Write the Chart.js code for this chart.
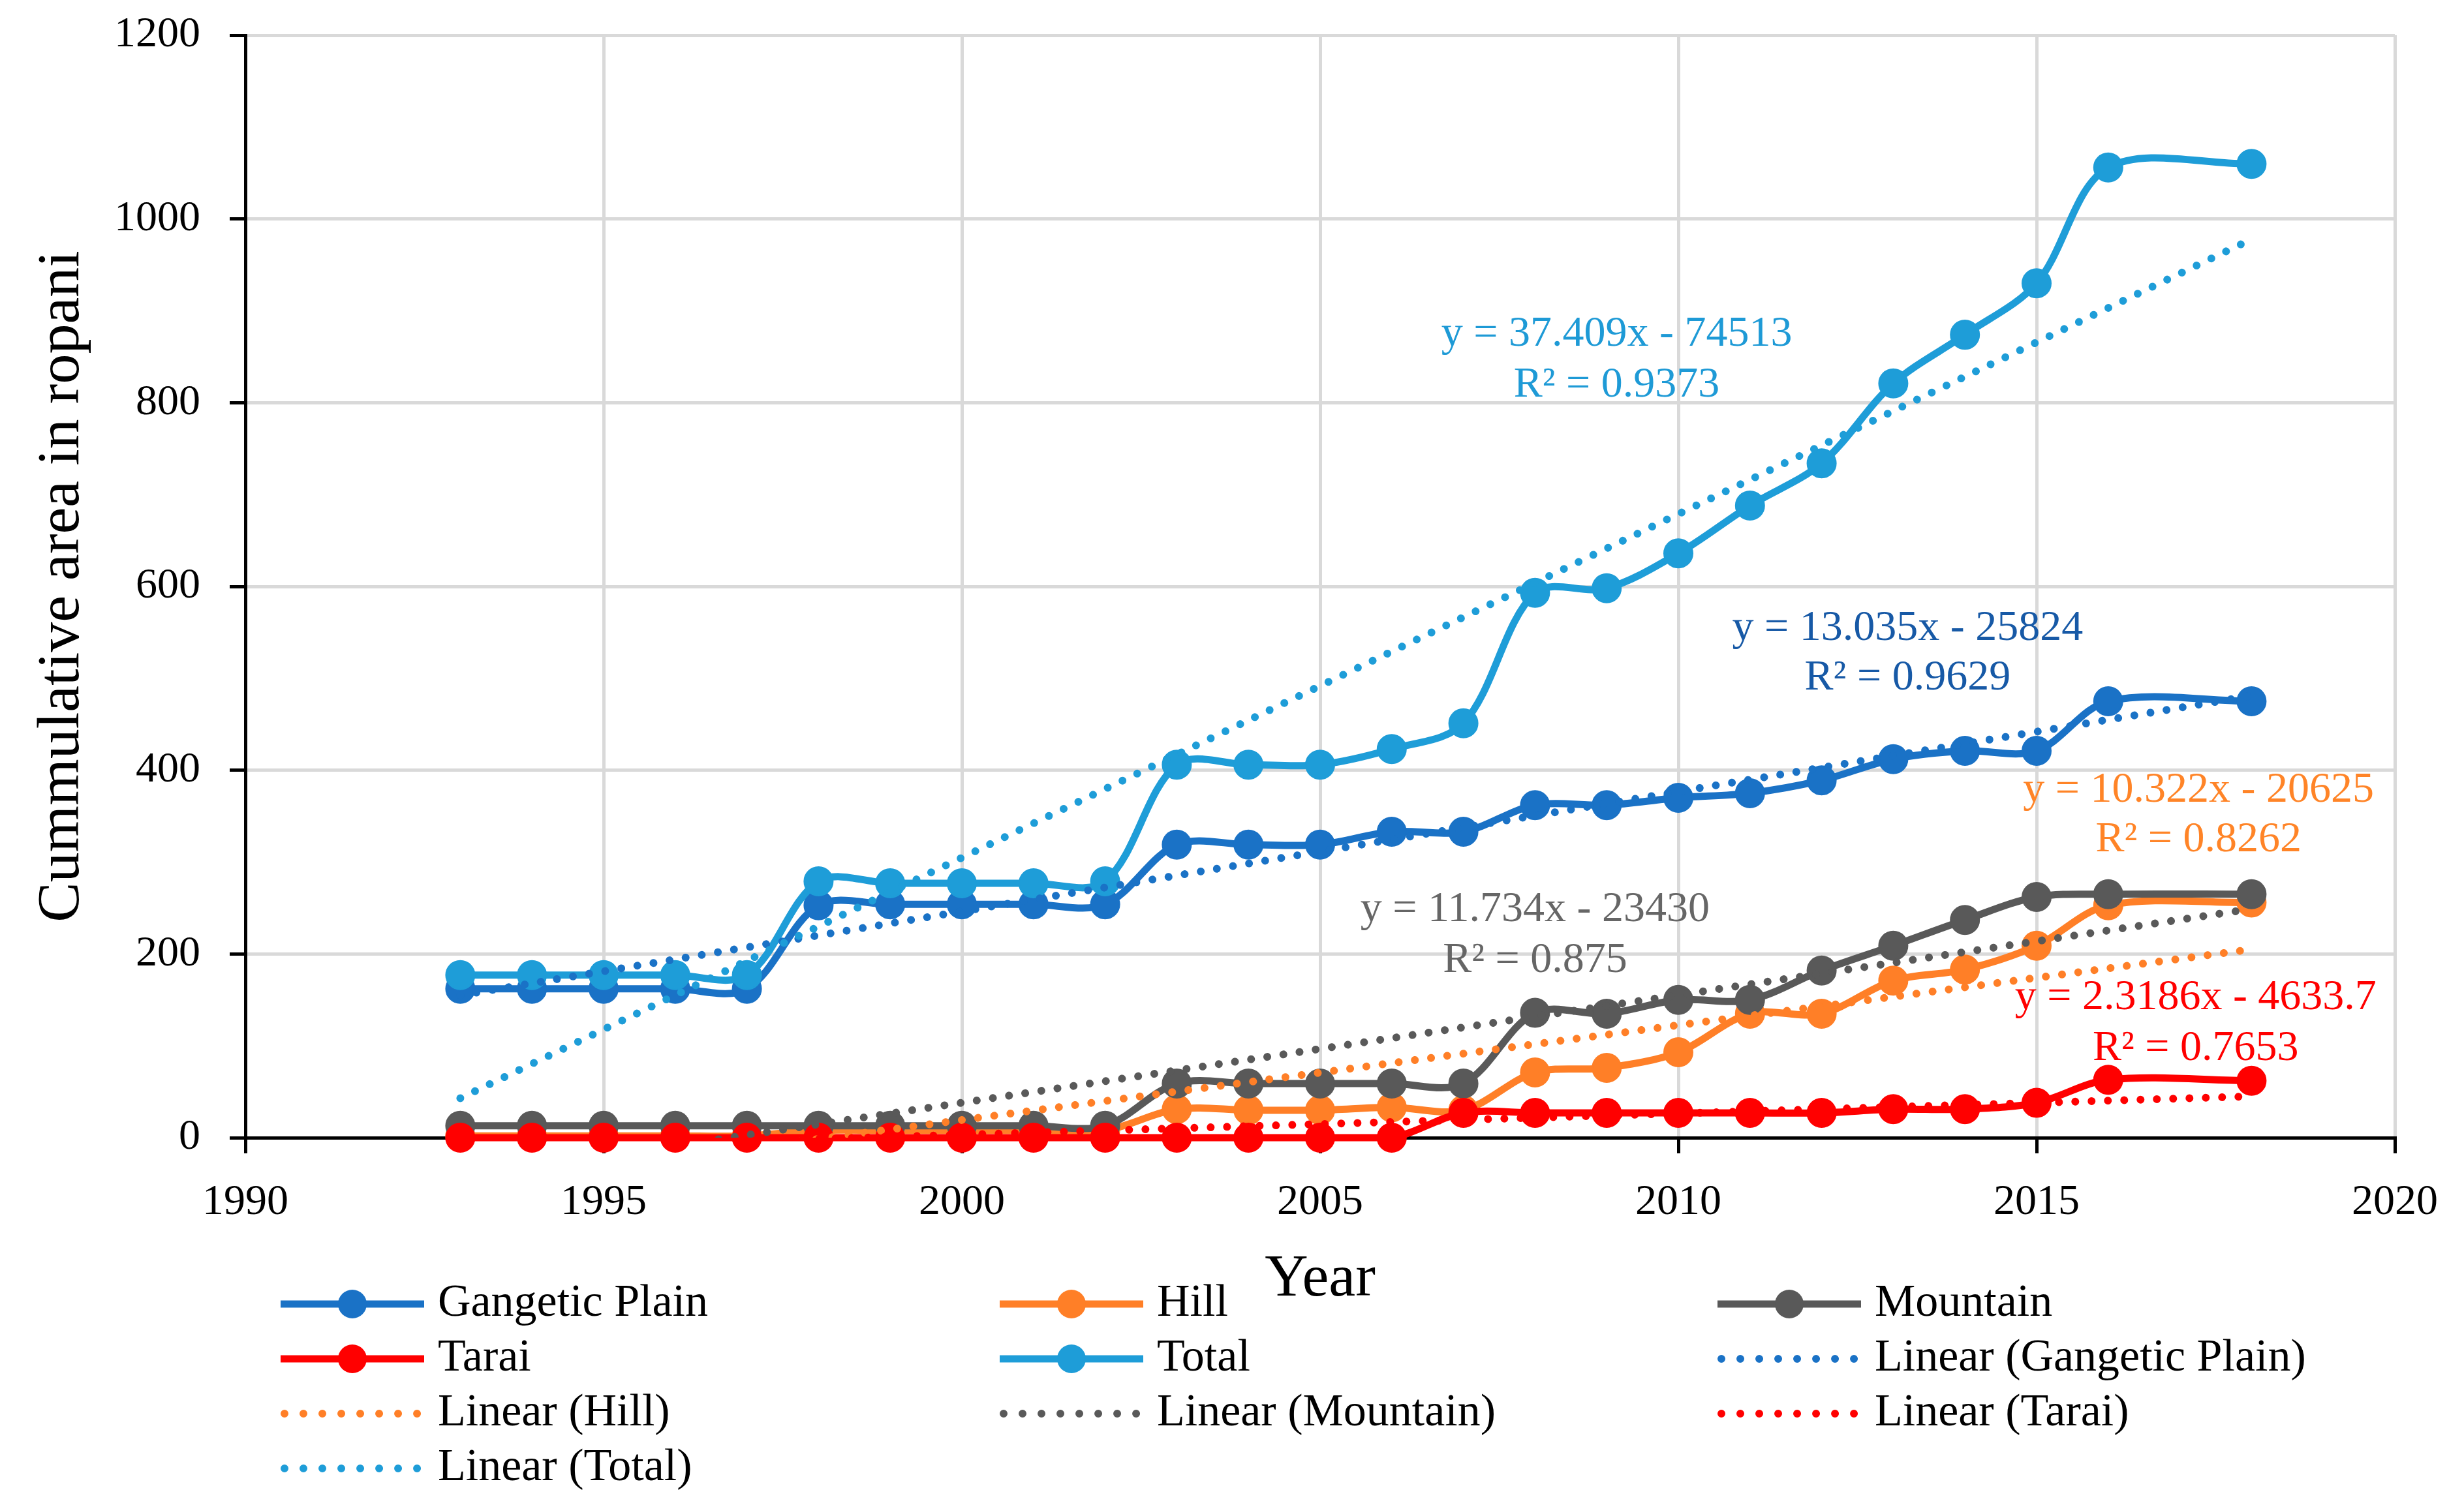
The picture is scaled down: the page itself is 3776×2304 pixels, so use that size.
<!DOCTYPE html>
<html>
<head>
<meta charset="utf-8">
<title>Cummulative area in ropani</title>
<script src="https://cdn.jsdelivr.net/npm/chart.js@4.4.1/dist/chart.umd.min.js"></script>
<style>
  html, body { margin: 0; padding: 0; background: #fff; }
  canvas { display: block; }
</style>
</head>
<body>
<canvas id="areaChart" width="3776" height="2304"></canvas>
<script>
// survey years (no record for 2017)
const years = [1993, 1994, 1995, 1996, 1997, 1998, 1999, 2000, 2001, 2002, 2003, 2004, 2005,
  2006, 2007, 2008, 2009, 2010, 2011, 2012, 2013, 2014, 2015, 2016, 2018];

const gangeticPlain = [162, 162, 162, 162, 162, 253, 254, 254, 254, 254, 319, 319, 319,
  333, 333, 362, 362, 370, 375, 389, 412, 421, 421, 475, 475];
const hill = [2, 2, 2, 2, 2, 8, 8, 8, 8, 8, 31, 30, 30,
  33, 30, 71, 76, 93, 135, 135, 171, 183, 209, 253, 256];
const mountain = [13, 13, 13, 13, 13, 13, 13, 13, 13, 13, 59, 59, 59,
  59, 59, 136, 135, 150, 150, 182, 209, 237, 262, 265, 265];
const tarai = [0, 0, 0, 0, 0, 0, 0, 0, 0, 0, 0, 0, 0,
  0, 27, 27, 27, 27, 27, 27, 31, 31, 38, 63, 62];
const total = [177, 177, 177, 177, 177, 279, 277, 277, 277, 279, 406, 406, 406,
  423, 451, 593, 598, 636, 688, 734, 821, 874, 930, 1056, 1060];

// linear trend lines, value at first and last year
const trendYears = [1993, 2018];
const gangeticTrend = [155, 481];
const hillTrend = [-53, 205];
const mountainTrend = [-44, 249];
const taraiTrend = [-13, 45];
const totalTrend = [43, 978];

const seriesNames = ['Gangetic Plain', 'Hill', 'Mountain', 'Tarai', 'Total'];
const seriesColors = ['#1A72C6', '#FF7F27', '#595959', '#FF0000', '#1E9DD8'];

// trend equations: [text, R² text, x (year), y of equation line, y of R² line, colour]
const trendLabels = [
  ['y = 37.409x - 74513', 'R² = 0.9373', 2009.14, 874, 819, '#1E9AD6'],
  ['y = 13.035x - 25824', 'R² = 0.9629', 2013.2, 554, 500, '#1759A6'],
  ['y = 10.322x - 20625', 'R² = 0.8262', 2017.26, 378, 324, '#FF8427'],
  ['y = 11.734x - 23430', 'R² = 0.875', 2008.0, 248, 193, '#666666'],
  ['y = 2.3186x - 4633.7', 'R² = 0.7653', 2017.22, 152, 97, '#FF0000']
];

const FONT = "'Liberation Serif', 'Times New Roman', serif";

const toPoints = (xs, ys) => xs.map((x, i) => ({ x: x, y: ys[i] }));

const seriesData = [gangeticPlain, hill, mountain, tarai, total];
const trendData = [gangeticTrend, hillTrend, mountainTrend, taraiTrend, totalTrend];

// excel draws later series on top; chart.js draws lower "order" on top
const seriesOrder = [9, 8, 7, 6, 5];
const trendOrder = [4, 3, 2, 1, 0];

const datasets = [];
seriesNames.forEach((name, i) => {
  datasets.push({
    label: name,
    data: toPoints(years, seriesData[i]),
    borderColor: seriesColors[i],
    backgroundColor: seriesColors[i],
    pointBackgroundColor: seriesColors[i],
    pointBorderColor: seriesColors[i],
    borderWidth: 11,
    pointRadius: 22,
    pointBorderWidth: 2,
    tension: 0.33,
    clip: false,
    order: seriesOrder[i],
    isTrend: false
  });
});
seriesNames.forEach((name, i) => {
  datasets.push({
    label: 'Linear (' + name + ')',
    data: toPoints(trendYears, trendData[i]),
    borderColor: seriesColors[i],
    backgroundColor: seriesColors[i],
    borderWidth: 12,
    borderDash: [0.01, 25],
    borderCapStyle: 'round',
    pointRadius: 0,
    tension: 0,
    clip: 0,
    order: trendOrder[i],
    isTrend: true
  });
});

const trendLabelPlugin = {
  id: 'trendLabels',
  afterDatasetsDraw(chart) {
    const { ctx, scales: { x, y } } = chart;
    ctx.save();
    ctx.font = '66px ' + FONT;
    ctx.textAlign = 'center';
    ctx.textBaseline = 'middle';
    trendLabels.forEach(([eq, r2, yr, yEq, yR2, color]) => {
      ctx.fillStyle = color;
      ctx.fillText(eq, x.getPixelForValue(yr), y.getPixelForValue(yEq));
      ctx.fillText(r2, x.getPixelForValue(yr), y.getPixelForValue(yR2));
    });
    ctx.restore();
  }
};

// legend laid out as a 3 column grid like the excel one
const gridLegendPlugin = {
  id: 'gridLegend',
  afterDraw(chart) {
    const ctx = chart.ctx;
    const colX = [430, 1532, 2632];
    const rowY = 1999;
    const rowGap = 84;
    const sampleLen = 220;
    ctx.save();
    chart.data.datasets.forEach((ds, i) => {
      const col = i % 3;
      const row = Math.floor(i / 3);
      const x0 = colX[col];
      const yy = rowY + row * rowGap;
      ctx.strokeStyle = ds.borderColor;
      ctx.lineWidth = ds.borderWidth;
      ctx.lineCap = ds.isTrend ? 'round' : 'butt';
      ctx.setLineDash(ds.isTrend ? [0.01, 29] : []);
      ctx.beginPath();
      ctx.moveTo(x0 + (ds.isTrend ? 6 : 0), yy);
      ctx.lineTo(x0 + sampleLen - (ds.isTrend ? 6 : 0), yy);
      ctx.stroke();
      ctx.setLineDash([]);
      if (!ds.isTrend) {
        ctx.fillStyle = ds.borderColor;
        ctx.beginPath();
        ctx.arc(x0 + sampleLen / 2, yy, 22, 0, Math.PI * 2);
        ctx.fill();
      }
      ctx.fillStyle = '#000';
      ctx.font = '70px ' + FONT;
      ctx.textAlign = 'left';
      ctx.textBaseline = 'middle';
      ctx.fillText(ds.label, x0 + 241, yy);
    });
    ctx.restore();
  }
};

new Chart(document.getElementById('areaChart'), {
  type: 'line',
  data: { datasets: datasets },
  options: {
    responsive: false,
    devicePixelRatio: 1,
    animation: false,
    events: [],
    layout: {
      padding: { left: 0, top: 54, right: 106, bottom: 287 }
    },
    plugins: {
      legend: { display: false },
      tooltip: { enabled: false }
    },
    scales: {
      x: {
        type: 'linear',
        min: 1990,
        max: 2020,
        ticks: {
          stepSize: 5,
          color: '#000',
          padding: 36,
          font: { family: FONT, size: 66 },
          callback: (value) => String(value)
        },
        grid: {
          color: '#D9D9D9',
          lineWidth: 5,
          tickColor: '#000',
          tickLength: 24,
          tickWidth: 5
        },
        border: { color: '#000', width: 5 },
        title: {
          display: true,
          text: 'Year',
          color: '#000',
          padding: 0,
          font: { family: FONT, size: 92 }
        },
        afterFit(scale) {
          scale.height = 273;
        }
      },
      y: {
        min: 0,
        max: 1200,
        ticks: {
          stepSize: 200,
          color: '#000',
          padding: 45,
          font: { family: FONT, size: 66 },
          callback: (value) => String(value)
        },
        grid: {
          color: '#D9D9D9',
          lineWidth: 5,
          tickColor: '#000',
          tickLength: 24,
          tickWidth: 5
        },
        border: { color: '#000', width: 5 },
        title: {
          display: true,
          text: 'Cummulative area in ropani',
          color: '#000',
          padding: { top: 41, bottom: 0 },
          font: { family: FONT, size: 92 }
        },
        afterFit(scale) {
          scale.width = 376;
          // keep the tick padding from pushing the plot down
          scale.paddingTop = 40;
          scale.paddingBottom = 40;
        }
      }
    }
  },
  plugins: [trendLabelPlugin, gridLegendPlugin]
});
</script>
</body>
</html>
